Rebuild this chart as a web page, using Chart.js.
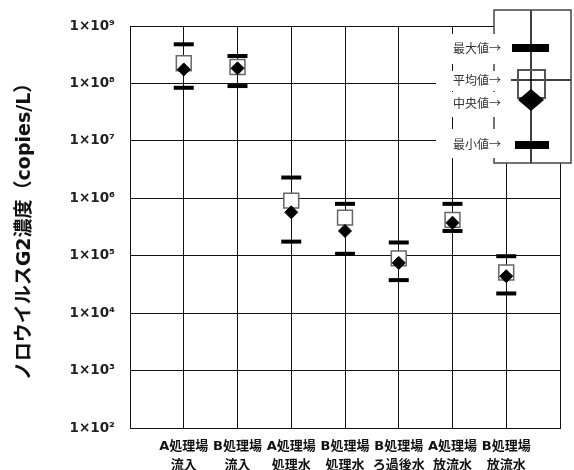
<!DOCTYPE html>
<html><head><meta charset="utf-8">
<script src="https://cdn.jsdelivr.net/npm/chart.js@4/dist/chart.umd.min.js"></script>
<style>html,body{margin:0;padding:0;background:#fff}canvas{display:block}</style>
</head><body>
<canvas id="c" width="574" height="470"></canvas>
<script>
const categories = [['A処理場','流入'],['B処理場','流入'],['A処理場','処理水'],['B処理場','処理水'],['B処理場','ろ過後水'],['A処理場','放流水'],['B処理場','放流水']];
const maxValues    = [4.8e8, 3.0e8, 2.3e6, 8.0e5, 1.7e5, 8.0e5, 9.8e4];
const meanValues   = [2.25e8, 1.93e8, 9.1e5, 4.6e5, 9.0e4, 4.2e5, 5.1e4];
const medianValues = [1.75e8, 1.83e8, 5.7e5, 2.7e5, 7.5e4, 3.75e5, 4.4e4];
const minValues    = [8.4e7, 9.0e7, 1.76e5, 1.08e5, 3.76e4, 2.7e5, 2.2e4];
const yTickValues = [1e2, 1e3, 1e4, 1e5, 1e6, 1e7, 1e8, 1e9];
const yTickLabels = ['1×10²','1×10³','1×10⁴','1×10⁵','1×10⁶','1×10⁷','1×10⁸','1×10⁹'];
const legendLabels = ['最大値→','平均値→','中央値→','最小値→'];
const yTitle = 'ノロウイルスG2濃度（copies/L）';

const toPts = arr => arr.map((v, i) => ({x: i + 1, y: v}));
const FONT = '"DejaVu Sans", "Noto Sans CJK JP", sans-serif';

const legendPlugin = {
  id: 'boxLegend',
  afterDraw(chart) {
    const ctx = chart.ctx, a = chart.chartArea;
    const bx = a.right - 66, by = a.top - 16, bw = 77, bh = 153;
    const cx = bx + 37;
    ctx.save();
    ctx.fillStyle = '#fff';
    ctx.fillRect(bx, by, bw, bh);
    ctx.strokeStyle = '#000';
    ctx.lineWidth = 1.5;
    ctx.beginPath();
    ctx.moveTo(cx, by); ctx.lineTo(cx, by + bh);
    ctx.moveTo(bx + 17, by + 70); ctx.lineTo(bx + bw, by + 70);
    ctx.stroke();
    ctx.strokeStyle = '#444';
    ctx.strokeRect(bx, by, bw, bh);
    ctx.fillStyle = '#000';
    ctx.fillRect(cx - 19, by + 34, 37, 8);
    ctx.fillRect(cx - 16, by + 131, 34, 8);
    ctx.strokeStyle = '#555';
    ctx.lineWidth = 2;
    ctx.strokeRect(cx - 13, by + 60, 27, 28);
    ctx.fillStyle = '#000';
    ctx.beginPath();
    ctx.moveTo(cx, by + 79); ctx.lineTo(cx + 13, by + 90);
    ctx.lineTo(cx, by + 101); ctx.lineTo(cx - 13, by + 90);
    ctx.closePath(); ctx.fill();
    ctx.fillStyle = '#fff';
    const lys = [by + 38, by + 70, by + 93, by + 134];
    const bgs = [[by + 24, by + 54], [by + 61, by + 81], [by + 82, by + 107], [by + 119, by + 148]];
    bgs.forEach(b => ctx.fillRect(bx - 58, b[0], 72, b[1] - b[0]));
    ctx.fillStyle = '#333';
    ctx.font = '12px "Noto Sans CJK JP", sans-serif';
    ctx.textAlign = 'right';
    ctx.textBaseline = 'middle';
    legendLabels.forEach((t, i) => ctx.fillText(t, bx + 7, lys[i]));
    ctx.restore();
  }
};

new Chart(document.getElementById('c'), {
  type: 'scatter',
  data: {
    datasets: [
      {label: '中央値', data: toPts(medianValues), pointStyle: 'rectRot', radius: 6.5, backgroundColor: '#000', borderColor: '#000', borderWidth: 1},
      {label: '平均値', data: toPts(meanValues), pointStyle: 'rect', radius: 10.5, backgroundColor: '#fff', borderColor: '#666', borderWidth: 1.5},
      {label: '最大値', data: toPts(maxValues), pointStyle: 'line', radius: 10, borderColor: '#000', borderWidth: 4},
      {label: '最小値', data: toPts(minValues), pointStyle: 'line', radius: 10, borderColor: '#000', borderWidth: 4}
    ]
  },
  options: {
    responsive: false,
    animation: false,
    devicePixelRatio: 1,
    layout: {padding: {left: 0, right: 12, top: 26, bottom: 0}},
    plugins: {legend: {display: false}, tooltip: {enabled: false}},
    scales: {
      x: {
        type: 'linear', min: 0, max: 8,
        afterBuildTicks: s => { s.ticks = [0,1,2,3,4,5,6,7,8].map(v => ({value: v})); },
        afterFit: s => { s.height = 42; },
        grid: {color: '#111', lineWidth: 1, drawTicks: false},
        border: {color: '#111', width: 1},
        ticks: {
          autoSkip: false, maxRotation: 0, padding: 10, color: '#111',
          font: {family: FONT, size: 13, weight: 'bold', lineHeight: 1.4},
          callback: v => (v >= 1 && v <= categories.length) ? categories[v - 1] : ''
        }
      },
      y: {
        type: 'logarithmic', min: 1e2, max: 1e9,
        afterBuildTicks: s => { s.ticks = yTickValues.map(v => ({value: v})); },
        afterFit: s => { s.width = 130; },
        grid: {color: '#111', lineWidth: 1, drawTicks: false},
        border: {color: '#111', width: 1},
        ticks: {
          padding: 15, color: '#222',
          font: {family: FONT, size: 13.5, weight: 'bold'},
          callback: v => { const i = yTickValues.findIndex(t => Math.abs(Math.log10(t) - Math.log10(v)) < 1e-6); return i >= 0 ? yTickLabels[i] : ''; }
        },
        title: {display: true, text: yTitle, color: '#111', padding: {top: 14, bottom: 0},
          font: {family: FONT, size: 19, weight: 'bold'}}
      }
    }
  },
  plugins: [legendPlugin]
});
</script>
</body></html>
